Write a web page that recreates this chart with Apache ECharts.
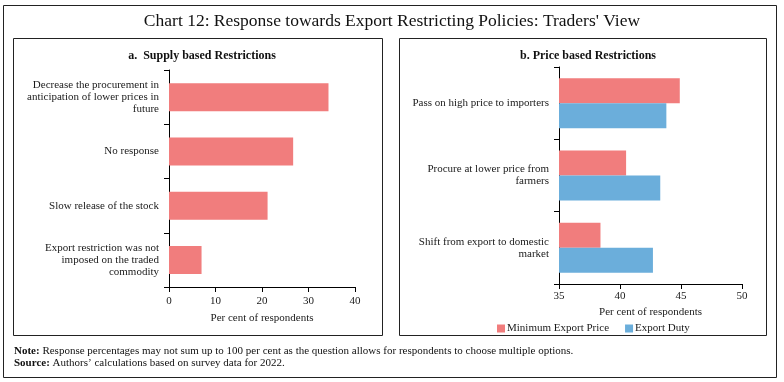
<!DOCTYPE html>
<html><head><meta charset="utf-8">
<script src="https://cdn.jsdelivr.net/npm/echarts@6/dist/echarts.min.js"></script>
<style>html,body{margin:0;padding:0;background:#fff}#c{width:784px;height:382px}</style>
</head><body><div id="c"></div>
<script>
const supplyCategories = [
  'Decrease the procurement in\nanticipation of lower prices in\nfuture',
  'No response',
  'Slow release of the stock',
  'Export restriction was not\nimposed on the traded\ncommodity'
];
const supplyValues = [34.3, 26.7, 21.2, 7.0];
const supplyTicks = [0, 10, 20, 30, 40];

const priceCategories = [
  'Pass on high price to importers',
  'Procure at lower price from\nfarmers',
  'Shift from export to domestic\nmarket'
];
const minimumExportPrice = [44.9, 40.5, 38.4];
const exportDuty = [43.8, 43.3, 42.7];
const priceTicks = [35, 40, 45, 50];

const FONT = '"Liberation Serif", "DejaVu Serif", serif';
const RED = '#F17D7D';
const BLUE = '#6BAEDB';
const chart = echarts.init(document.getElementById('c'), null, {renderer: 'canvas'});

const axisLine = {show: true, lineStyle: {color: '#000', width: 1}};
const txt = {fontFamily: FONT, fontSize: 11, color: '#1a1a1a'};

chart.setOption({
  animation: false,
  textStyle: {fontFamily: FONT},
  graphic: [
    {type: 'rect', shape: {x: 3.5, y: 5.5, width: 773, height: 372}, style: {fill: 'none', stroke: '#222', lineWidth: 1}},
    {type: 'rect', shape: {x: 13.5, y: 38.5, width: 369, height: 297}, style: {fill: 'none', stroke: '#222', lineWidth: 1}},
    {type: 'rect', shape: {x: 399.5, y: 38.5, width: 367, height: 297}, style: {fill: 'none', stroke: '#222', lineWidth: 1}},
    {type: 'text', left: 'center', top: 12, style: {text: "Chart 12: Response towards Export Restricting Policies: Traders' View", font: '17.5px ' + FONT, fill: '#111'}},
    {type: 'text', left: 14, top: 345, style: {
      text: '{b|Note:} Response percentages may not sum up to 100 per cent as the question allows for respondents to choose multiple options.\n{b|Source:} Authors\u2019 calculations based on survey data for 2022.',
      font: '11px ' + FONT, fill: '#111', lineHeight: 12,
      rich: {b: {fontWeight: 'bold', fontFamily: FONT, fontSize: 11, fill: '#111', lineHeight: 12}}
    }}
  ],
  title: [
    {text: 'a.  Supply based Restrictions', left: 197, top: 45, textAlign: 'center',
     textStyle: {fontFamily: FONT, fontSize: 12, fontWeight: 'bold', color: '#111'}},
    {text: 'b. Price based Restrictions', left: 583, top: 45, textAlign: 'center',
     textStyle: {fontFamily: FONT, fontSize: 12, fontWeight: 'bold', color: '#111'}}
  ],
  legend: {
    left: 492, top: 318, itemWidth: 8, itemHeight: 8, itemGap: 16,
    icon: 'rect', textStyle: Object.assign({}, txt, {padding: [0, 0, 0, -3]}),
    data: ['Minimum Export Price', 'Export Duty']
  },
  grid: [
    {left: 169, top: 70, width: 186, height: 217},
    {left: 559, top: 67, width: 183, height: 217}
  ],
  xAxis: [
    {gridIndex: 0, type: 'value', min: supplyTicks[0], max: supplyTicks[supplyTicks.length - 1], interval: 10,
     axisLine: axisLine, axisTick: {show: true, length: 5, lineStyle: {color: '#000'}},
     splitLine: {show: false}, axisLabel: Object.assign({}, txt, {margin: 9}),
     name: 'Per cent of respondents', nameLocation: 'middle', nameGap: 26, nameTextStyle: txt},
    {gridIndex: 1, type: 'value', min: priceTicks[0], max: priceTicks[priceTicks.length - 1], interval: 5,
     axisLine: axisLine, axisTick: {show: true, length: 5, lineStyle: {color: '#000'}},
     splitLine: {show: false}, axisLabel: Object.assign({}, txt, {margin: 7}),
     name: 'Per cent of respondents', nameLocation: 'middle', nameGap: 22, nameTextStyle: txt}
  ],
  yAxis: [
    {gridIndex: 0, type: 'category', inverse: true, data: supplyCategories,
     axisLine: axisLine, axisTick: {show: true, length: 5, lineStyle: {color: '#000'}},
     axisLabel: Object.assign({}, txt, {margin: 10, lineHeight: 12, align: 'right'})},
    {gridIndex: 1, type: 'category', inverse: true, data: priceCategories,
     axisLine: axisLine, axisTick: {show: true, length: 5, lineStyle: {color: '#000'}},
     axisLabel: Object.assign({}, txt, {margin: 10, lineHeight: 12, align: 'right'})}
  ],
  series: [
    {type: 'bar', xAxisIndex: 0, yAxisIndex: 0, data: supplyValues, barWidth: 28,
     itemStyle: {color: RED}},
    {name: 'Minimum Export Price', type: 'bar', xAxisIndex: 1, yAxisIndex: 1, data: minimumExportPrice,
     barWidth: 25, barGap: '0%', itemStyle: {color: RED}},
    {name: 'Export Duty', type: 'bar', xAxisIndex: 1, yAxisIndex: 1, data: exportDuty,
     barWidth: 25, barGap: '0%', itemStyle: {color: BLUE}}
  ]
});
</script></body></html>
